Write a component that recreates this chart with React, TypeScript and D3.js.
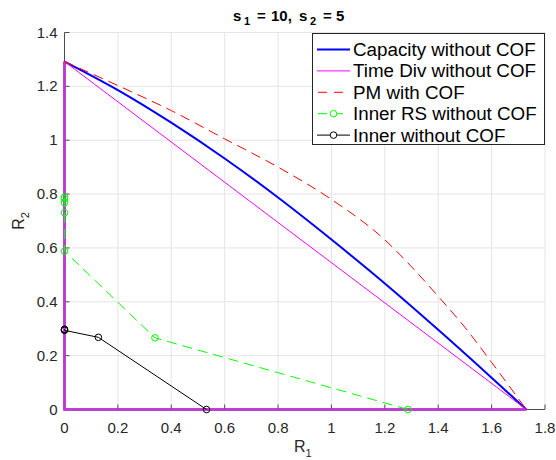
import React from 'react';
import * as d3 from 'd3';

// values
const capR1 = [0, 0.2, 0.4, 0.6, 0.8, 1.0, 1.2, 1.4, 1.6, 1.73];
const capR2 = [1.292, 1.186, 1.065, 0.932, 0.787, 0.631, 0.468, 0.296, 0.118, 0];

const tdR1 = [0, 1.73];
const tdR2 = [1.292, 0];

const pmR1 = [0, 0.2, 0.4, 0.6, 0.8, 1.0, 1.2, 1.3, 1.4, 1.5, 1.6, 1.73];
const pmR2 = [1.292, 1.203, 1.11, 1.005, 0.9, 0.78, 0.63, 0.53, 0.42, 0.305, 0.175, 0];

const rsR1 = [0, 0, 0, 0, 0, 0.339, 1.287];
const rsR2 = [0.789, 0.782, 0.768, 0.731, 0.588, 0.266, 0];

const inR1 = [0, 0, 0, 0.127, 0.532];
const inR2 = [0.298, 0.296, 0.294, 0.268, 0];

const xTicks = [0, 0.2, 0.4, 0.6, 0.8, 1, 1.2, 1.4, 1.6, 1.8];
const yTicks = [0, 0.2, 0.4, 0.6, 0.8, 1, 1.2, 1.4];

const legendItems = [
  { label: 'Capacity without COF', color: '#0000ff', width: 2, dash: false, marker: false },
  { label: 'Time Div without COF', color: '#ff00ff', width: 1, dash: false, marker: false },
  { label: 'PM with COF', color: '#ff0000', width: 1, dash: true, marker: false },
  { label: 'Inner RS without COF', color: '#00ff00', width: 1, dash: true, marker: true },
  { label: 'Inner without COF', color: '#000000', width: 1, dash: false, marker: true },
];

const W = 556, H = 460;
const margin = { left: 64.5, right: 11, top: 32.5, bottom: 50.5 };
const font = '"Liberation Sans", Arial, Helvetica, sans-serif';

type P = [number, number];

export default function App() {
  const x = d3.scaleLinear().domain([0, 1.8]).range([margin.left, W - margin.right]);
  const y = d3.scaleLinear().domain([0, 1.4]).range([H - margin.bottom, margin.top]);
  const line = d3.line<P>().x(d => x(d[0])).y(d => y(d[1]));
  const smooth = d3.line<P>().x(d => x(d[0])).y(d => y(d[1])).curve(d3.curveMonotoneX);

  const zip = (a: number[], b: number[]) => a.map((v, i) => [v, b[i]] as P);
  // the regions are closed along both axes
  const axesPart = (a: number[], b: number[]) =>
    line([[0, b[0]], [0, 0], [a[a.length - 1], 0]] as P[]);

  const x0 = x(0), y0 = y(0);

  return (
    <svg width={W} height={H} style={{ position: 'absolute', left: 0, top: 0, background: '#fff' }} fontFamily={font}>
      <rect x={0} y={0} width={W} height={H} fill="#fff" />
      {/* grid */}
      <g stroke="#e5e5e5" strokeWidth={1}>
        {xTicks.map(t => <line key={'gx' + t} x1={x(t)} x2={x(t)} y1={y(0)} y2={y(1.4)} />)}
        {yTicks.map(t => <line key={'gy' + t} x1={x(0)} x2={x(1.8)} y1={y(t)} y2={y(t)} />)}
      </g>
      {/* axes */}
      <g stroke="#4d4d4d" strokeWidth={1} fill="none">
        <line x1={x0} x2={x(1.8)} y1={y0} y2={y0} />
        <line x1={x0} x2={x0} y1={y0} y2={y(1.4)} />
        {xTicks.map(t => <line key={'tx' + t} x1={x(t)} x2={x(t)} y1={y0} y2={y0 - 5} />)}
        {yTicks.map(t => <line key={'ty' + t} x1={x0} x2={x0 + 5} y1={y(t)} y2={y(t)} />)}
      </g>
      <g fontSize={15} fill="#262626">
        {xTicks.map(t => (
          <text key={'lx' + t} x={x(t)} y={y0 + 23} textAnchor="middle">{String(t)}</text>
        ))}
        {yTicks.map(t => (
          <text key={'ly' + t} x={x0 - 7} y={y(t) + 5} textAnchor="end">{String(t)}</text>
        ))}
      </g>
      {/* axis labels */}
      <text x={(x(0) + x(1.8)) / 2 - 2} y={452} textAnchor="middle" fontSize={16} fill="#262626">
        R<tspan fontSize={11} dy={5}>1</tspan>
      </text>
      <text transform={`translate(24, ${(y(0) + y(1.4)) / 2}) rotate(-90)`} textAnchor="middle" fontSize={16} fill="#262626">
        R<tspan fontSize={11} dy={5}>2</tspan>
      </text>
      {/* title (TeX-like spacing) */}
      <g fontSize={15} fontWeight="bold" fill="#000">
        <text x={233} y={21}>s</text>
        <text x={244} y={25} fontSize={11}>1</text>
        <text x={257} y={21}>=</text>
        <text x={271} y={21}>10,</text>
        <text x={299} y={21}>s</text>
        <text x={310} y={25} fontSize={11}>2</text>
        <text x={323} y={21}>=</text>
        <text x={336} y={21}>5</text>
      </g>
      {/* data */}
      <path d={axesPart(capR1, capR2) || ''} fill="none" stroke="#0000ff" strokeWidth={2} />
      <path d={smooth(zip(capR1, capR2)) || ''} fill="none" stroke="#0000ff" strokeWidth={2} />
      <path d={axesPart(tdR1, tdR2) || ''} fill="none" stroke="#cc33cc" strokeWidth={2.5} />
      <path d={line(zip(tdR1, tdR2)) || ''} fill="none" stroke="#ff00ff" strokeWidth={1} />
      <path d={smooth(zip(pmR1, pmR2)) || ''} fill="none" stroke="#ff0000" strokeWidth={1} strokeDasharray="10,6" />
      <path d={line(zip(rsR1, rsR2)) || ''} fill="none" stroke="#00ff00" strokeWidth={1} strokeDasharray="10,6" />
      {zip(rsR1, rsR2).map((p, i) => (
        <circle key={'rs' + i} cx={x(p[0])} cy={y(p[1])} r={3.3} fill="none" stroke="#00ff00" strokeWidth={1} />
      ))}
      <path d={line(zip(inR1, inR2)) || ''} fill="none" stroke="#000" strokeWidth={1} />
      {zip(inR1, inR2).map((p, i) => (
        <circle key={'in' + i} cx={x(p[0])} cy={y(p[1])} r={3.3} fill="none" stroke="#000" strokeWidth={1} />
      ))}
      {/* legend */}
      <g>
        <rect x={312.5} y={33.5} width={232} height={111} fill="#fff" stroke="#262626" strokeWidth={1} />
        {legendItems.map((it, i) => {
          const cy = 49.5 + i * 21.4;
          return (
            <g key={it.label}>
              <line x1={317} x2={350} y1={cy} y2={cy} stroke={it.color} strokeWidth={it.width}
                strokeDasharray={it.dash ? '9,7' : undefined} strokeDashoffset={it.dash ? -1 : 0} />
              {it.marker && <circle cx={333.5} cy={cy} r={3.3} fill="#fff" stroke={it.color} strokeWidth={1} />}
              <text x={353} y={cy + 6.5} fontSize={18.8} fill="#000">{it.label}</text>
            </g>
          );
        })}
      </g>
    </svg>
  );
}
